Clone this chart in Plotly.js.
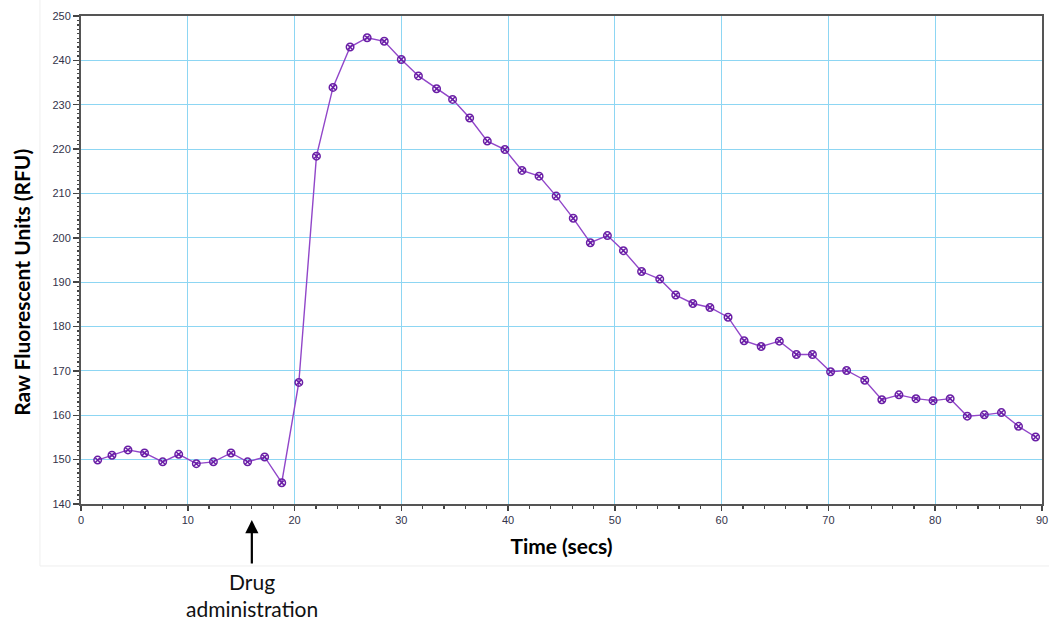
<!DOCTYPE html>
<html>
<head>
<meta charset="utf-8">
<script src="https://cdn.plot.ly/plotly-3.0.1.min.js"></script>
<style>html,body{margin:0;padding:0;background:#fff;}#chart{width:1049px;height:623px;}</style>
</head>
<body>
<div id="chart"></div>
<script>
// Time (secs)
const timeSecs = [1.56, 2.9, 4.4, 5.95, 7.65, 9.15, 10.8, 12.4, 14.05, 15.6, 17.2, 18.8, 20.4,
  22.05, 23.6, 25.2, 26.8, 28.4, 30.0, 31.6, 33.3, 34.8, 36.4, 38.05, 39.7, 41.3, 42.9, 44.5,
  46.1, 47.7, 49.3, 50.8, 52.5, 54.2, 55.7, 57.3, 58.9, 60.6, 62.1, 63.7, 65.4, 67.0, 68.5,
  70.2, 71.7, 73.4, 75.0, 76.6, 78.2, 79.8, 81.4, 83.0, 84.6, 86.2, 87.8, 89.4];
// Raw Fluorescent Units (RFU)
const rfu = [149.9, 151.0, 152.2, 151.5, 149.5, 151.2, 149.1, 149.5, 151.5, 149.5, 150.6, 144.8, 167.4,
  218.4, 233.9, 243.0, 245.1, 244.3, 240.2, 236.5, 233.6, 231.2, 227.0, 221.8, 219.9, 215.2, 213.9, 209.4,
  204.4, 198.9, 200.5, 197.1, 192.4, 190.7, 187.1, 185.2, 184.3, 182.1, 176.8, 175.5, 176.7, 173.7, 173.7,
  169.8, 170.1, 167.9, 163.5, 164.6, 163.75, 163.3, 163.75, 159.8, 160.1, 160.6, 157.5, 155.1];

const xTickVals = [0, 10, 20, 30, 40, 50, 60, 70, 80, 90];
const yTickVals = [140, 150, 160, 170, 180, 190, 200, 210, 220, 230, 240, 250];
const drugTime = 16;
const drugLabel = 'Drug<br>administration';
const xTitle = 'Time (secs)';
const yTitle = 'Raw Fluorescent Units (RFU)';

const trace = {
  x: timeSecs,
  y: rfu,
  type: 'scatter',
  mode: 'lines+markers',
  line: {color: '#9146c9', width: 1.4},
  marker: {symbol: 'circle-x-open', size: 7.5, color: '#6a1fa6', line: {width: 1.5, color: '#6a1fa6'}},
  hoverinfo: 'x+y'
};

const tickFont = {family: 'Arial, "Liberation Sans", sans-serif', size: 11, color: '#33334a'};
const gridCol = '#8dd6f3';

const layout = {
  width: 1049,
  height: 623,
  margin: {l: 81, r: 7, t: 16, b: 119},
  paper_bgcolor: '#ffffff',
  plot_bgcolor: '#ffffff',
  showlegend: false,
  xaxis: {
    range: [0, 90],
    tickvals: xTickVals,
    ticktext: xTickVals.map(String),
    tickfont: tickFont,
    ticks: 'outside',
    ticklen: 5,
    tickwidth: 1.5,
    tickcolor: '#444',
    minor: {dtick: 2, ticks: 'outside', ticklen: 3, tickwidth: 1.3, tickcolor: '#444', showgrid: false},
    showline: true,
    linecolor: '#555',
    linewidth: 2,
    mirror: true,
    showgrid: true,
    gridcolor: gridCol,
    gridwidth: 1,
    zeroline: false,
    title: {text: xTitle, font: {family: 'Lato, "Open Sans", sans-serif', size: 21, color: '#000', weight: 'bold'}, standoff: 14}
  },
  yaxis: {
    range: [140, 250],
    tickvals: yTickVals,
    ticktext: yTickVals.map(String),
    tickfont: tickFont,
    ticks: 'outside',
    ticklen: 6,
    tickwidth: 1.5,
    tickcolor: '#444',
    minor: {dtick: 1, ticks: 'outside', ticklen: 2, tickwidth: 1.3, tickcolor: '#444', showgrid: false},
    showline: true,
    linecolor: '#555',
    linewidth: 2,
    mirror: true,
    showgrid: true,
    gridcolor: gridCol,
    gridwidth: 1,
    zeroline: false
  },
  shapes: [{
    type: 'rect', xref: 'paper', yref: 'paper',
    x0: -0.0427, x1: 1.01, y0: -0.127, y1: 1.04,
    line: {color: '#efefef', width: 1}, fillcolor: 'rgba(0,0,0,0)', layer: 'below'
  }],
  annotations: [
    {
      x: -0.0615, xref: 'paper', y: 0.455, yref: 'paper',
      xanchor: 'center', yanchor: 'middle', showarrow: false, textangle: -90,
      text: yTitle,
      font: {family: 'Lato, "Open Sans", sans-serif', size: 21, color: '#000', weight: 'bold'}
    },
    {
      x: drugTime, xref: 'x', y: -0.033, yref: 'paper',
      ax: 0, ay: 45, axref: 'pixel', ayref: 'pixel',
      text: '', showarrow: true, arrowhead: 2, arrowsize: 1.2, arrowwidth: 2.2, arrowcolor: '#000'
    },
    {
      x: drugTime, xref: 'x', y: -0.13, yref: 'paper',
      xanchor: 'center', yanchor: 'top', showarrow: false,
      text: drugLabel, align: 'center',
      font: {family: 'Lato, "Open Sans", sans-serif', size: 21, color: '#111'}
    }
  ]
};

Plotly.newPlot('chart', [trace], layout, {displayModeBar: false, staticPlot: true});
</script>
</body>
</html>
